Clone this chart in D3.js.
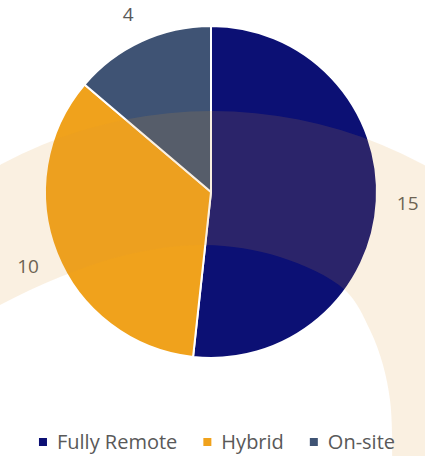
<!DOCTYPE html>
<html>
<head>
<meta charset="utf-8">
<script src="https://cdn.jsdelivr.net/npm/d3@7"></script>
<style>
  body { margin: 0; background: #fff; }
  text { font-family: 'Open Sans', sans-serif; fill: #595959; }
</style>
</head>
<body>
<div id="canvas"></div>
<script>
// data
var categories = ['Fully Remote', 'Hybrid', 'On-site'];
var values = [15, 10, 4];
var colors = ['#0c1074', '#f0a21c', '#3f5374'];

var W = 425, H = 456;
var cx = 211, cy = 192, R = 166;

svg = d3.select('#canvas').append('svg')
  .attr('width', W)
  .attr('height', H);

var pie = d3.pie().sort(null).value(function(d) { return d; });
var arcs = pie(values);
var arc = d3.arc().innerRadius(0).outerRadius(R);
var labelArc = d3.arc().innerRadius(R + 31).outerRadius(R + 31);

board = svg.append('g')
  .attr('transform', 'translate(' + cx + ',' + cy + ')');

board.selectAll('path.slice')
  .data(arcs)
  .enter().append('path')
  .attr('class', 'slice')
  .attr('d', arc)
  .attr('fill', function(d, i) { return colors[i]; })
  .attr('stroke', '#ffffff')
  .attr('stroke-width', 2)
  .attr('stroke-linejoin', 'round');

// decorative band from the slide behind (sits on top, translucent)
var bandCol = 'rgb(222,155,55)';
var innerPts = [[-60, 338], [0, 305], [60, 277], [130, 254], [205, 245], [280, 257],
                [345, 290], [370, 330], [383, 365], [390, 400], [392, 432], [392, 470]];
var innerLine = d3.line().curve(d3.curveCatmullRom);
var bandPath = d3.path();
bandPath.arc(212, 554, 443, 0, 2 * Math.PI);
bandPath.closePath();
var band = bandPath.toString() + ' ' + innerLine(innerPts) + ' L392,620 L-60,620 Z';

svg.append('path')
  .attr('d', band)
  .attr('fill', bandCol)
  .attr('fill-opacity', 0.15)
  .attr('fill-rule', 'evenodd');

// data labels
board.selectAll('text.lbl')
  .data(arcs)
  .enter().append('text')
  .attr('class', 'lbl')
  .attr('transform', function(d) { return 'translate(' + labelArc.centroid(d) + ')'; })
  .attr('text-anchor', 'middle')
  .attr('dy', '0.4em')
  .style('font-size', '19px')
  .text(function(d) { return d.data; });

// legend
var legend = svg.append('g');
var x = 0;
categories.forEach(function(c, i) {
  var item = legend.append('g').attr('transform', 'translate(' + x + ',0)');
  item.append('rect')
    .attr('x', 0).attr('y', -11)
    .attr('width', 8).attr('height', 8)
    .attr('fill', colors[i]);
  var t = item.append('text')
    .attr('x', 18).attr('y', 0)
    .style('font-size', '20px')
    .text(c);
  x += 18 + t.node().getComputedTextLength() + 26;
});
var legW = x - 26;
legend.attr('transform', 'translate(' + (217 - legW / 2) + ',449)');
</script>
</body>
</html>
